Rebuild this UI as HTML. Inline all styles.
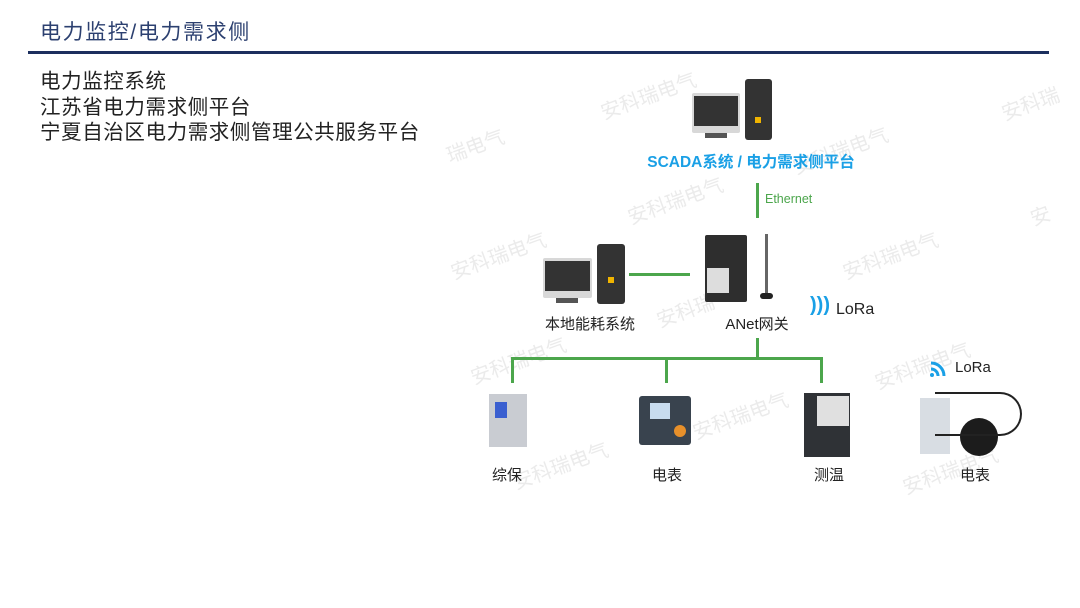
<!DOCTYPE html>
<html><head><meta charset="utf-8"><style>
body{margin:0;width:1080px;height:608px;background:#fff;position:relative;overflow:hidden;font-family:"Liberation Sans","Noto Sans CJK SC",sans-serif}
.a{position:absolute}
.wm{position:absolute;color:#ebebeb;font-size:20px;transform:rotate(-20deg);white-space:nowrap}
.g{position:absolute;background:#4ca64c}
.lbl{position:absolute;font-size:15px;color:#222;transform:translateX(-50%);white-space:nowrap}
.mon{position:absolute;background:#d8d8d8;border-radius:2px}
.mon i{position:absolute;left:2px;right:2px;top:3px;bottom:7px;background:#333}
.tow{position:absolute;background:#333;border-radius:3px}
</style></head><body>
<div class="a" style="left:40px;top:16px;font-size:21px;color:#2c4070;letter-spacing:1.6px">电力监控/电力需求侧</div>
<div class="a" style="left:28px;top:51px;width:1021px;height:3px;background:#1c2f5e"></div>
<div class="a" style="left:40px;top:69px;font-size:20.5px;line-height:25.5px;color:#222;letter-spacing:0.6px">电力监控系统<br>江苏省电力需求侧平台<br>宁夏自治区电力需求侧管理公共服务平台</div>

<div class="wm" style="left:598px;top:80px">安科瑞电气</div>
<div class="wm" style="left:1000px;top:88px">安科瑞</div>
<div class="wm" style="left:445px;top:130px">瑞电气</div>
<div class="wm" style="left:790px;top:135px">安科瑞电气</div>
<div class="wm" style="left:625px;top:185px">安科瑞电气</div>
<div class="wm" style="left:1030px;top:200px">安</div>
<div class="wm" style="left:448px;top:240px">安科瑞电气</div>
<div class="wm" style="left:840px;top:240px">安科瑞电气</div>
<div class="wm" style="left:655px;top:295px">安科瑞</div>
<div class="wm" style="left:468px;top:345px">安科瑞电气</div>
<div class="wm" style="left:872px;top:350px">安科瑞电气</div>
<div class="wm" style="left:690px;top:400px">安科瑞电气</div>
<div class="wm" style="left:510px;top:450px">安科瑞电气</div>
<div class="wm" style="left:900px;top:455px">安科瑞电气</div>

<div class="mon" style="left:692px;top:93px;width:48px;height:40px"><i></i></div>
<div class="a" style="left:705px;top:133px;width:22px;height:5px;background:#555"></div>
<div class="tow" style="left:745px;top:79px;width:27px;height:61px"></div>
<div class="a" style="left:755px;top:117px;width:6px;height:6px;background:#f0b400"></div>
<div class="a" style="left:751px;top:150px;font-size:15.5px;font-weight:bold;color:#1aa0e6;transform:translateX(-50%);white-space:nowrap">SCADA系统 / 电力需求侧平台</div>
<div class="g" style="left:756px;top:183px;width:3px;height:35px"></div>
<div class="a" style="left:765px;top:192px;font-size:12.5px;color:#4ca64c">Ethernet</div>

<div class="mon" style="left:543px;top:258px;width:49px;height:40px"><i></i></div>
<div class="a" style="left:556px;top:298px;width:22px;height:5px;background:#555"></div>
<div class="tow" style="left:597px;top:244px;width:28px;height:60px"></div>
<div class="a" style="left:608px;top:277px;width:6px;height:6px;background:#f0b400"></div>
<div class="g" style="left:629px;top:273px;width:61px;height:3px"></div>
<div class="a" style="left:705px;top:235px;width:42px;height:67px;background:#2e2e2e;border-radius:2px"></div>
<div class="a" style="left:707px;top:268px;width:22px;height:25px;background:#ddd"></div>
<div class="a" style="left:765px;top:234px;width:3px;height:60px;background:#666"></div>
<div class="a" style="left:760px;top:293px;width:13px;height:6px;background:#222;border-radius:3px"></div>
<div class="lbl" style="left:590px;top:313px">本地能耗系统</div>
<div class="lbl" style="left:757px;top:313px">ANet网关</div>
<div class="a" style="left:810px;top:294px;font-size:20px;color:#1aa0e6;font-weight:bold">)))</div>
<div class="a" style="left:836px;top:301px;font-size:16px;color:#222">LoRa</div>

<div class="g" style="left:756px;top:338px;width:3px;height:21px"></div>
<div class="g" style="left:511px;top:357px;width:312px;height:3px"></div>
<div class="g" style="left:511px;top:357px;width:3px;height:26px"></div>
<div class="g" style="left:665px;top:357px;width:3px;height:26px"></div>
<div class="g" style="left:820px;top:357px;width:3px;height:26px"></div>

<div class="a" style="left:489px;top:394px;width:38px;height:53px;background:#c9ccd2"></div>
<div class="a" style="left:495px;top:402px;width:12px;height:16px;background:#3a5fd0"></div>
<div class="a" style="left:639px;top:396px;width:52px;height:49px;background:#39434e;border-radius:3px"></div>
<div class="a" style="left:650px;top:403px;width:20px;height:16px;background:#c8dcef"></div>
<div class="a" style="left:674px;top:425px;width:12px;height:12px;background:#e8902a;border-radius:50%"></div>
<div class="a" style="left:804px;top:393px;width:46px;height:64px;background:#2f3236"></div>
<div class="a" style="left:817px;top:396px;width:32px;height:30px;background:#e0e0e0"></div>
<div class="a" style="left:920px;top:398px;width:30px;height:56px;background:#d8dde3"></div>
<div class="a" style="left:960px;top:418px;width:38px;height:38px;background:#1c1c1c;border-radius:50%"></div>
<div class="a" style="left:935px;top:392px;width:85px;height:40px;border:2px solid #222;border-left:none;border-radius:0 30px 30px 0"></div>
<div class="lbl" style="left:507px;top:464px">综保</div>
<div class="lbl" style="left:667px;top:464px">电表</div>
<div class="lbl" style="left:829px;top:464px">测温</div>
<div class="lbl" style="left:975px;top:464px">电表</div>
<svg class="a" style="left:928px;top:356px" width="22" height="22" viewBox="0 0 22 22"><g fill="none" stroke="#1aa0e6" stroke-width="3"><path d="M3 13a7 7 0 0 1 7 7"/><path d="M3 7a13 13 0 0 1 13 13"/></g><circle cx="4" cy="19" r="2" fill="#1aa0e6"/></svg>
<div class="a" style="left:955px;top:359px;font-size:15px;color:#222">LoRa</div>
</body></html>
